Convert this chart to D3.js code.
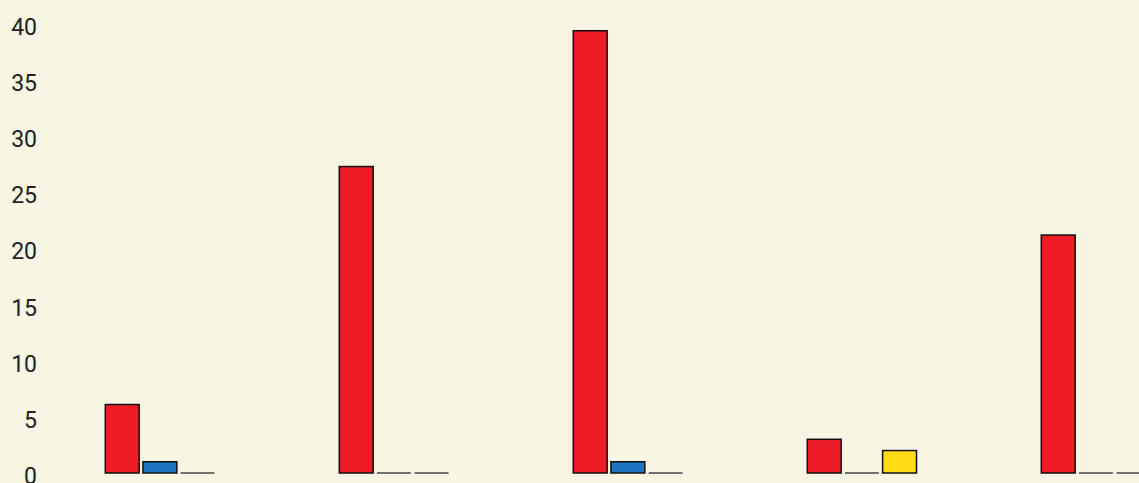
<!DOCTYPE html>
<html>
<head>
<meta charset="utf-8">
<script src="https://cdn.jsdelivr.net/npm/d3@7"></script>
<style>
  html, body { margin: 0; padding: 0; background: #f8f5e3; }
  svg { display: block; }
</style>
</head>
<body>
<script>
const categories = ["A", "B", "C", "D", "E"];
const seriesNames = ["Red", "Blue", "Yellow"];
const seriesColors = ["#ed1c24", "#1f74bf", "#ffdc16"];
const redValues = [6.1, 27.3, 39.4, 3.0, 21.2];
const blueValues = [1.0, 0, 1.0, 0, 0];
const yellowValues = [0, 0, 0, 2.0, 0];
const yTicks = [0, 5, 10, 15, 20, 25, 30, 35, 40];

const W = 1139, H = 483;
const svg = d3.select("body").append("svg").attr("width", W).attr("height", H);
svg.append("rect").attr("width", W).attr("height", H).attr("fill", "#f8f5e3");

const values = [redValues, blueValues, yellowValues];
const data = categories.map((c, i) => ({
  cat: c,
  vals: seriesNames.map((s, j) => ({ series: s, idx: j, value: values[j][i] }))
}));

const y = d3.scaleLinear().domain([0, 40]).range([473, 24]);
const x0 = d3.scaleBand().domain(categories)
  .range([44.9, 44.9 + 234 * 5]).paddingInner(0.5).paddingOuter(0.25);
const x1 = d3.scaleBand().domain(seriesNames)
  .range([0, 113]).paddingInner(0.1).paddingOuter(0.05);

// y axis labels
const yAxis = d3.axisLeft(y).tickValues(yTicks).tickSize(0).tickPadding(0);
const gy = svg.append("g").attr("transform", "translate(37,3)").call(yAxis);
gy.select(".domain").remove();
gy.selectAll("text")
  .attr("fill", "#222")
  .style("font-family", "Roboto, 'Noto Sans', sans-serif")
  .style("font-size", "23px")
  .style("font-weight", "400");

const groups = svg.append("g").selectAll("g").data(data).join("g")
  .attr("transform", d => `translate(${x0(d.cat)},0)`);

groups.selectAll("rect").data(d => d.vals.filter(v => v.value > 0)).join("rect")
  .attr("x", d => x1(d.series))
  .attr("y", d => y(d.value))
  .attr("width", x1.bandwidth())
  .attr("height", d => y(0) - y(d.value))
  .attr("fill", d => seriesColors[d.idx])
  .attr("stroke", "#111")
  .attr("stroke-width", 1.5);

groups.selectAll("line").data(d => d.vals.filter(v => v.value === 0)).join("line")
  .attr("x1", d => x1(d.series))
  .attr("x2", d => x1(d.series) + x1.bandwidth())
  .attr("y1", y(0))
  .attr("y2", y(0))
  .attr("stroke", "#444")
  .attr("stroke-width", 1.5);
</script>
</body>
</html>
